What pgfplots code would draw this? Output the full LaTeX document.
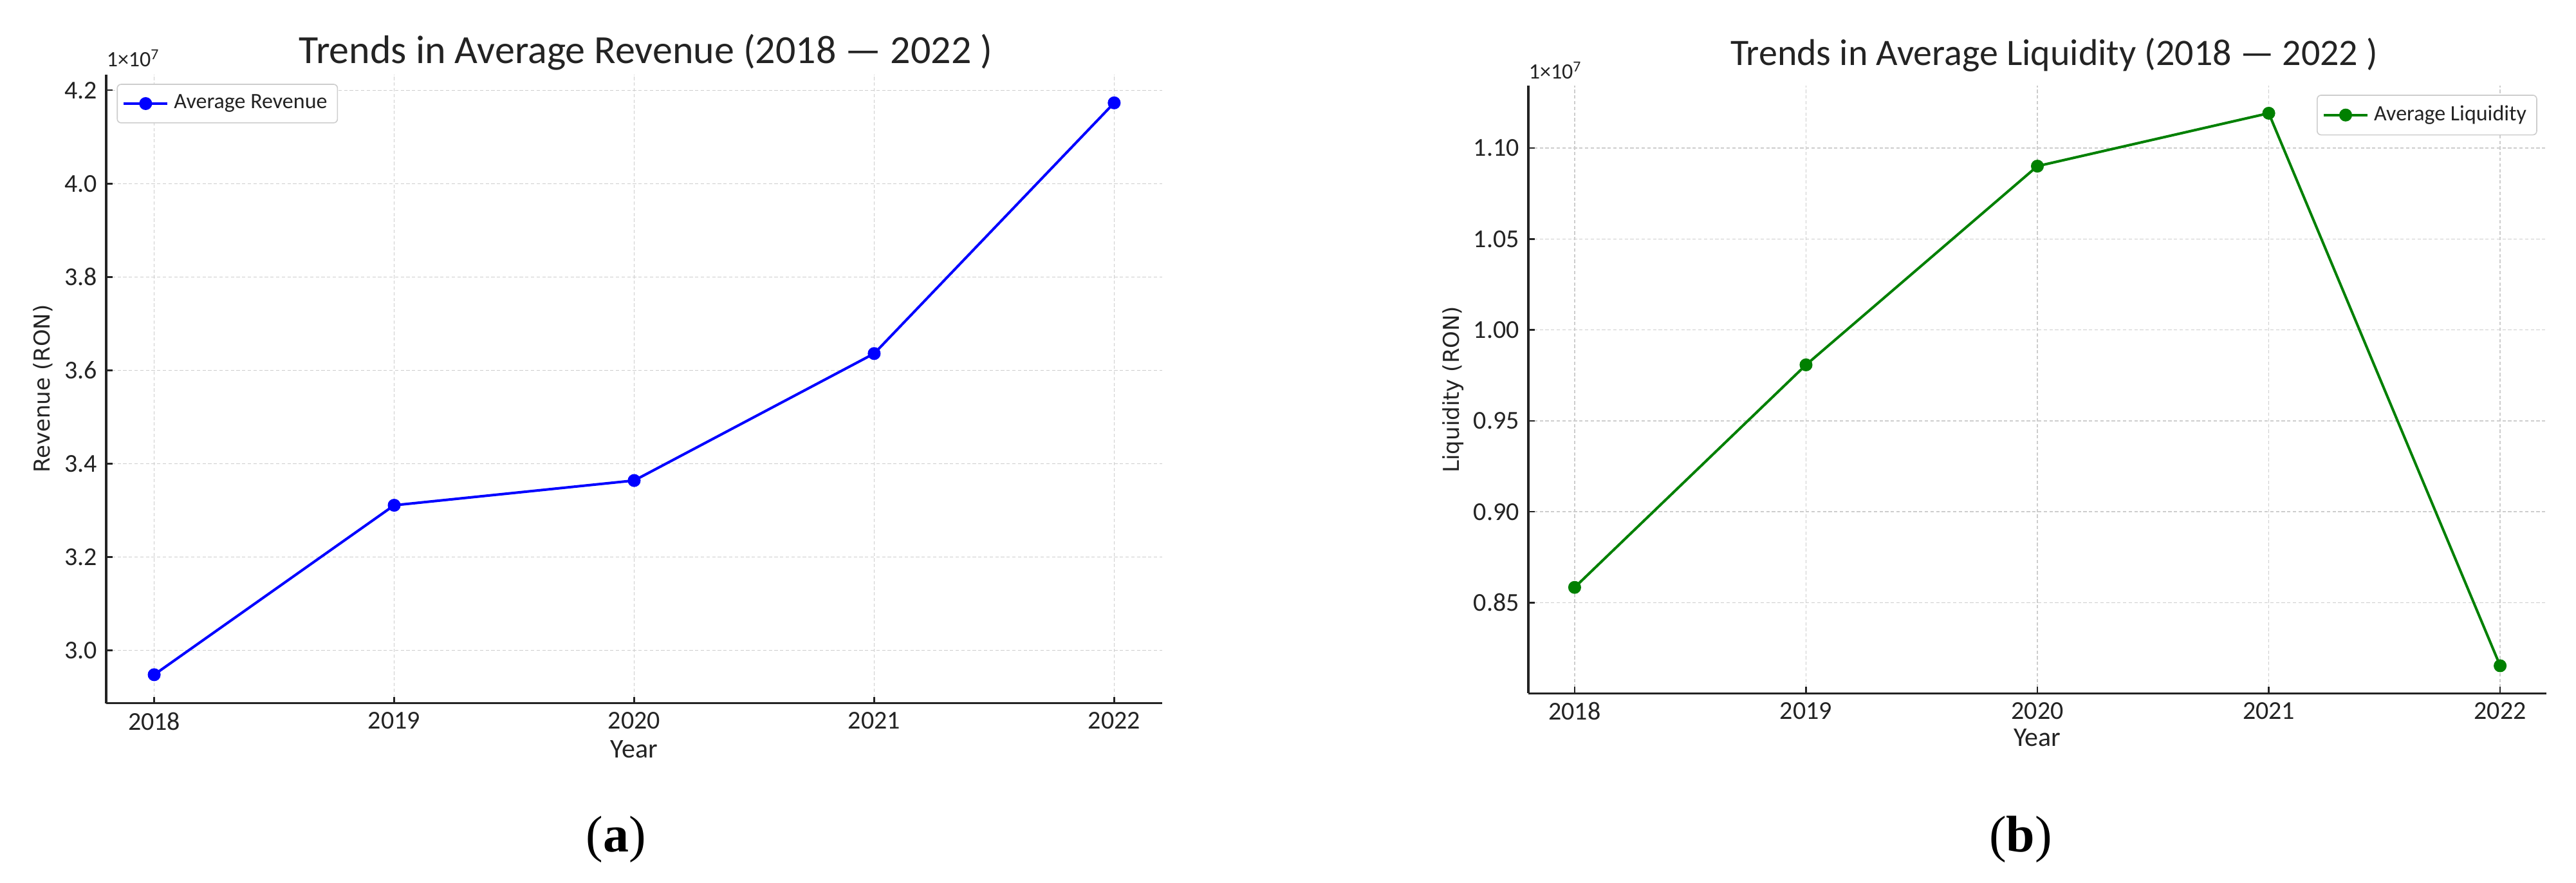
\documentclass[border=0pt]{standalone}
\usepackage{fontspec}
\setmainfont{Carlito}
\newfontfamily\dejavu{DejaVu Sans}
\newfontfamily\lserif{Liberation Serif}
\usepackage{pgfplots}
\pgfplotsset{compat=1.18}
\definecolor{gridc}{RGB}{205,205,205}
\definecolor{spine}{RGB}{35,35,35}
\definecolor{mygreen}{RGB}{0,128,0}
\definecolor{myblue}{RGB}{0,0,255}
\pgfplotsset{
 every axis title shift=0pt,
 mystyle/.style={
  scale only axis,
  clip=false,
  axis x line*=bottom, axis y line*=left,
  axis line style={spine, line width=0.8pt},
  xmin=2017.8, xmax=2022.2,
  xtick={2018,2019,2020,2021,2022},
  /pgf/number format/.cd, 1000 sep={}, assume math mode=true, /pgfplots/.cd,
  tick align=inside,
  major tick length=2.5pt,
  tick style={spine, line width=0.6pt},
  ticklabel style={font=\fontsize{10}{12}\selectfont, text=spine},
  grid=major,
  major grid style={gridc, dash pattern=on 1.3pt off 0.9pt, line width=0.35pt},
  title style={at={(0.5,1)}, anchor=base, text=spine},
  xlabel style={font=\fontsize{10.5}{12}\selectfont, anchor=center, text=spine},
  ylabel style={font=\dejavu\fontsize{8.5}{10}\selectfont, anchor=center, text=spine},
  legend style={draw=gridc, rounded corners=1.5pt, font=\fontsize{8.5}{10}\selectfont, text=spine, inner sep=2pt, row sep=0pt},
  legend cell align=left,
 }
}
\begin{document}
\begin{tikzpicture}
\path[use as bounding box] (0,0) rectangle (1000.75pt,342.75pt);
\begin{axis}[mystyle,
  at={(41.25pt,69.6pt)}, anchor=south west,
  width=410.25pt, height=244.25pt,
  ymin=2.887, ymax=4.234,
  ytick={3.0,3.2,3.4,3.6,3.8,4.0,4.2},
  yticklabel style={/pgf/number format/.cd, fixed, fixed zerofill, precision=1},
  title={Trends in Average Revenue (2018 — 2022 )},
  title style={yshift=4.25pt, xshift=4.5pt, font=\fontsize{15.5}{18}\selectfont},
  xlabel={Year},
  xlabel style={at={(axis description cs:0.5,-0.0737)}},
  ylabel={Revenue (RON)},
  ylabel style={at={(axis description cs:-0.0597,0.5)}},
  legend style={at={(0.01,0.985)}, anchor=north west},
]
\addplot[myblue, line width=1pt, mark=*, mark size=2pt, mark options={solid}] coordinates {
 (2018,2.948) (2019,3.311) (2020,3.364) (2021,3.636) (2022,4.173)
};
\addlegendentry{Average Revenue}
\node[anchor=base west, font=\fontsize{8.5}{10}\selectfont, text=spine, inner sep=0pt] at (rel axis cs:0,1) [yshift=3pt] {1×10\textsuperscript{7}};
\end{axis}
\begin{axis}[mystyle,
  at={(593.75pt,73.4pt)}, anchor=south west,
  width=395.5pt, height=236.1pt,
  ymin=0.8001, ymax=1.1344,
  ytick={0.85,0.90,0.95,1.00,1.05,1.10},
  yticklabel style={/pgf/number format/.cd, fixed, fixed zerofill, precision=2},
  title={Trends in Average Liquidity (2018 — 2022 )},
  title style={yshift=7.75pt, xshift=6.5pt, font=\fontsize{14.5}{17}\selectfont},
  xlabel={Year},
  xlabel style={at={(axis description cs:0.5,-0.0731)}},
  ylabel={Liquidity (RON)},
  ylabel style={at={(axis description cs:-0.074,0.5)}},
  legend style={at={(0.991,0.985)}, anchor=north east},
]
\addplot[mygreen, line width=1pt, mark=*, mark size=2pt, mark options={solid}] coordinates {
 (2018,0.8584) (2019,0.9808) (2020,1.0901) (2021,1.1192) (2022,0.8153)
};
\addlegendentry{Average Liquidity}
\node[anchor=base west, font=\fontsize{8.5}{10}\selectfont, text=spine, inner sep=0pt] at (rel axis cs:0,1) [yshift=2.6pt] {1×10\textsuperscript{7}};
\end{axis}
\node[font=\lserif\fontsize{20}{24}\selectfont] at (239.25pt,16.75pt) {(\textbf{a})};
\node[font=\lserif\fontsize{20}{24}\selectfont] at (785pt,16.75pt) {(\textbf{b})};
\end{tikzpicture}
\end{document}
